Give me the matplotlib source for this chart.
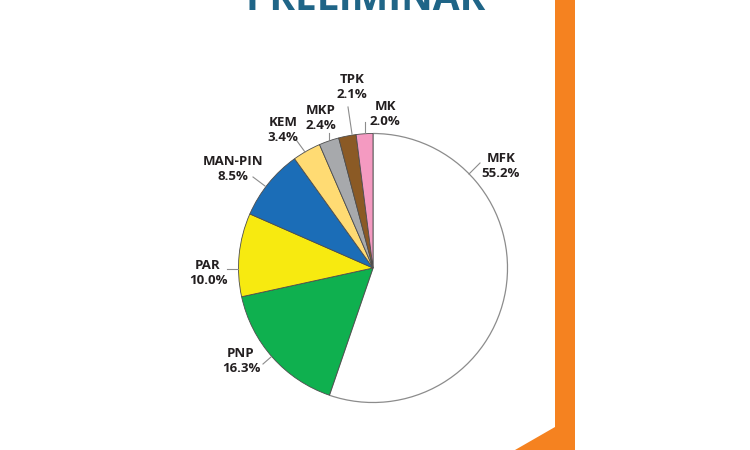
import matplotlib.pyplot as plt
from matplotlib.patches import Polygon

categories = ["MFK", "PNP", "PAR", "MAN-PIN", "KEM", "MKP", "TPK", "MK"]
shares = [55.2, 16.3, 10.0, 8.5, 3.4, 2.4, 2.1, 2.0]
colors = ["#ffffff", "#0fb04f", "#f7ea10", "#1b6db7", "#ffdb73", "#a7a9ac", "#8b5a25", "#f49ac1"]

# layout in image pixels, y measured from the top
label_pos = [(501, 166), (241, 361), (208, 273), (233, 169), (283, 130), (321, 118), (352, 87), (385, 114)]
leaders = [
    ((469, 174), (480, 163)),
    ((271, 357), (263, 364)),
    ((238, 269), (227, 269)),
    ((265, 186), (253, 177)),
    ((305, 152), (297, 141)),
    ((329, 139), (329, 133)),
    ((352, 134), (348, 107)),
    ((365, 133), (365, 122)),
]

W, H = 750, 450

fig = plt.figure(figsize=(7.5, 4.5), dpi=100)
ax = fig.add_axes([0, 0, 1, 1])

ax.pie(
    shares,
    colors=colors,
    startangle=90,
    counterclock=False,
    center=(373, H - 268),
    radius=134.5,
    frame=True,
    wedgeprops={"edgecolor": "#4d4d4d", "linewidth": 0.6},
)

# white MFK slice has a lighter outline
ax.patches[0].set_edgecolor("#8c8c8c")
ax.patches[0].set_linewidth(0.9)

for name, share, (x, y), (p0, p1) in zip(categories, shares, label_pos, leaders):
    ax.plot([p0[0], p1[0]], [H - p0[1], H - p1[1]], color="#8c8c8c", lw=0.8)
    ax.text(x, H - y, f"{name}\n{share:.1f}%", ha="center", va="center",
            fontsize=9.5, family="Open Sans", weight="bold",
            color="#231f20", linespacing=1.2)

# title cut off by the top of the image
ax.text(366, H - 10, "PRELIMINAR", ha="center", va="baseline", fontsize=28,
        family="Open Sans", weight="bold", color="#1f6587")

# orange band on the right
band = Polygon([(555, H), (575, H), (575, 0), (515, 0), (555, H - 427)],
               closed=True, facecolor="#f58220", edgecolor="none")
ax.add_patch(band)

ax.set_xlim(0, W)
ax.set_ylim(0, H)
ax.axis("off")

fig.savefig("out.png", dpi=100)
